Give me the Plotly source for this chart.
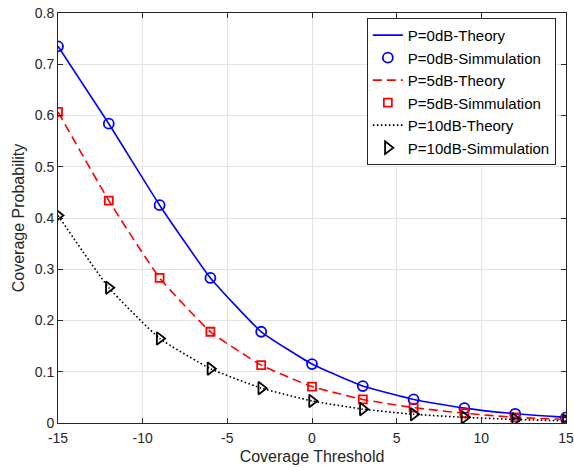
import plotly.graph_objects as go

x = [-15, -12, -9, -6, -3, 0, 3, 6, 9, 12, 15]
p0 = [0.735, 0.584, 0.425, 0.283, 0.178, 0.115, 0.072, 0.046, 0.029, 0.018, 0.011]
p5 = [0.607, 0.434, 0.283, 0.178, 0.113, 0.071, 0.046, 0.030, 0.019, 0.011, 0.007]
p10 = [0.405, 0.264, 0.165, 0.106, 0.068, 0.043, 0.027, 0.017, 0.011, 0.007, 0.004]
xticks = [-15, -10, -5, 0, 5, 10, 15]
xticklabels = ["-15", "-10", "-5", "0", "5", "10", "15"]
yticks = [0, 0.1, 0.2, 0.3, 0.4, 0.5, 0.6, 0.7, 0.8]
yticklabels = ["0", "0.1", "0.2", "0.3", "0.4", "0.5", "0.6", "0.7", "0.8"]

font = "Liberation Sans, Arial, sans-serif"
fig = go.Figure()
fig.add_trace(go.Scatter(x=x, y=p0, mode="lines", name="P=0dB-Theory",
                         line=dict(color="#0000ff", width=1.6, shape="spline", smoothing=0.4)))
fig.add_trace(go.Scatter(x=x, y=p0, mode="markers", name="P=0dB-Simmulation",
                         marker=dict(symbol="circle-open", size=10, color="#0000ff", line=dict(width=1.8))))
fig.add_trace(go.Scatter(x=x, y=p5, mode="lines", name="P=5dB-Theory",
                         line=dict(color="#ff0000", width=1.6, dash="9px,5px", shape="spline", smoothing=0.4)))
fig.add_trace(go.Scatter(x=x, y=p5, mode="markers", name="P=5dB-Simmulation",
                         marker=dict(symbol="square-open", size=8, color="#ff0000", line=dict(width=1.8))))
fig.add_trace(go.Scatter(x=x, y=p10, mode="lines", name="P=10dB-Theory",
                         line=dict(color="#000000", width=1.6, dash="1.6px,2.4px", shape="spline", smoothing=0.4)))
fig.add_trace(go.Scatter(x=x, y=p10, mode="markers", name="P=10dB-Simmulation",
                         marker=dict(symbol="triangle-right-open", size=11, color="#000000", line=dict(width=1.8))))

axis_common = dict(
    showgrid=True, gridcolor="#e3e3e3", gridwidth=1,
    showline=True, linecolor="#262626", linewidth=1, mirror="ticks",
    ticks="inside", ticklen=5, tickcolor="#262626",
    tickfont=dict(family=font, size=14, color="#262626"),
    zeroline=False, automargin=False, ticklabeloverflow="allow",
)
fig.update_layout(
    width=574, height=468,
    margin=dict(l=58, r=8, t=13, b=45),
    paper_bgcolor="white", plot_bgcolor="white",
    font=dict(family=font, color="#262626"),
    xaxis=dict(range=[-15, 15], tickvals=xticks, ticktext=xticklabels, ticklabelstandoff=2,
               title=dict(text="Coverage Threshold", font=dict(size=16, family=font, color="#262626"), standoff=6),
               **axis_common),
    yaxis=dict(range=[0, 0.8], tickvals=yticks, ticktext=yticklabels,
               title=dict(text="Coverage Probability", font=dict(size=16, family=font, color="#262626"), standoff=6),
               **axis_common),
    legend=dict(x=0.980, y=0.988, xanchor="right", yanchor="top",
                bgcolor="white", bordercolor="#262626", borderwidth=1,
                font=dict(family=font, size=15, color="#000000"),
                tracegroupgap=0, itemsizing="trace"),
)
# remove the browser's default 8px body margin so the 574x468 figure fills the window
fig.write_html("out.html", config={"displayModeBar": False},
               post_script="document.body.style.margin='0px';document.body.style.overflow='hidden';")
